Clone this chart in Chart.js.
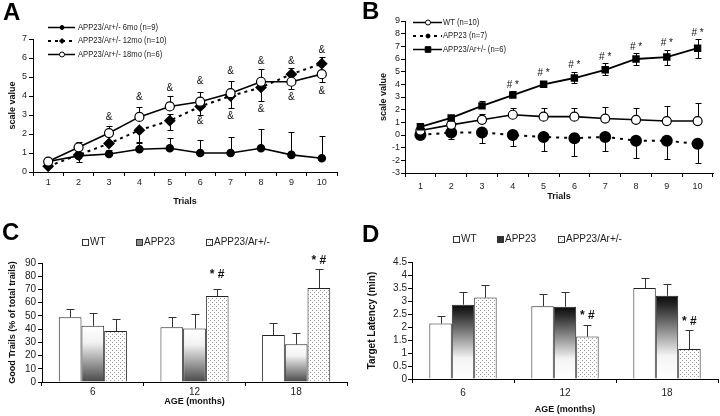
<!DOCTYPE html>
<html><head><meta charset="utf-8">
<script src="https://cdn.jsdelivr.net/npm/chart.js@4"></script>
<style>
html,body{margin:0;padding:0;background:#fff;}
#wrap{position:relative;width:720px;height:416px;overflow:hidden;background:#fff;}
canvas{position:absolute;}
.letter{position:absolute;font:bold 24px 'Liberation Sans',Arial,sans-serif;line-height:24px;color:#000;}
</style></head><body>
<div id="wrap">
<canvas id="cA" width="360" height="210" style="left:0;top:0"></canvas>
<canvas id="cB" width="360" height="210" style="left:360px;top:0"></canvas>
<canvas id="cC" width="360" height="206" style="left:0;top:210px"></canvas>
<canvas id="cD" width="360" height="206" style="left:360px;top:210px"></canvas>
<div class="letter" style="left:3px;top:0px">A</div>
<div class="letter" style="left:362px;top:-1px">B</div>
<div class="letter" style="left:2px;top:220px">C</div>
<div class="letter" style="left:362px;top:222px">D</div>
</div>
<script>
// ---------- DATA ----------
const trials = ['1','2','3','4','5','6','7','8','9','10'];
// Panel A
const labelsA = ['APP23/Ar+/- 6mo (n=9)', 'APP23/Ar+/- 12mo (n=10)', 'APP23/Ar+/- 18mo (n=6)'];
const a6mo    = [0.55, 0.85, 0.95, 1.2, 1.25, 1.0, 1.0, 1.25, 0.9, 0.72];
const a6moUp  = [0, 0, 0.2, 0.35, 0.55, 0.7, 0.85, 1.0, 1.2, 1.15];
const a12mo     = [0.3, 0.9, 1.5, 2.2, 2.7, 3.45, 4.0, 4.45, 5.15, 5.7];
const a12moUp   = [0, 0, 0, 0, 0.35, 0, 0, 0, 0.3, 0.35];
const a12moDown = [0, 0.35, 0, 0.6, 0.5, 0.45, 0.65, 0.7, 0, 0];
const a18mo     = [0.55, 1.3, 2.05, 2.9, 3.45, 3.7, 4.15, 4.75, 4.75, 5.15];
const a18moUp   = [0, 0.3, 0.35, 0.5, 0.55, 0.5, 0.65, 0.65, 0, 0];
const a18moDown = [0, 0, 0, 0, 0, 0, 0, 0, 0.4, 0.4];
const aMarkTrials = [3, 4, 5, 6, 7, 8, 9, 10, 6, 7, 8, 9, 10];
const aMarkValues = [2.9, 3.93, 4.4, 4.79, 5.3, 5.84, 5.84, 6.42, 2.65, 2.95, 3.3, 3.96, 4.23];
const aYMin = 0, aYMax = 7, aYStep = 1;
// Panel B
const labelsB = ['WT (n=10)', 'APP23 (n=7)', 'APP23/Ar+/- (n=6)'];
const bWT     = [0.35, 0.8, 1.2, 1.6, 1.45, 1.45, 1.3, 1.2, 1.1, 1.1];
const bWTUp   = [0, 0, 0.45, 0.5, 0.65, 0.7, 0.9, 0.95, 1.2, 1.4];
const bAPP      = [0, 0.2, 0.2, 0, -0.15, -0.25, -0.15, -0.45, -0.45, -0.7];
const bAPPDown  = [0, 0.55, 0.8, 0.85, 1.15, 1.4, 1.1, 1.35, 1.45, 1.5];
const bAr     = [0.65, 1.35, 2.3, 3.15, 4.0, 4.5, 5.15, 6.0, 6.15, 6.85];
const bArUp   = [0, 0.2, 0.35, 0.35, 0, 0.45, 0.55, 0.5, 0.6, 0.7];
const bArDown = [0, 0, 0, 0, 0, 0.4, 0.4, 0.5, 0.65, 0.75];
const bMarkTrials = [4, 5, 6, 7, 8, 9, 10];
const bMarkValues = [3.94, 4.91, 5.51, 6.12, 6.96, 7.22, 8.0];
const bYMin = -3, bYMax = 9, bYStep = 1;
// Panel C
const ages = ['6', '12', '18'];
const barLabels = ['WT', 'APP23', 'APP23/Ar+/-'];
const cWT  = [49, 41.5, 35.5];   const cWTErr  = [6.5, 8, 9];
const cAPP = [42.5, 40.5, 28.5]; const cAPPErr = [10, 11, 8.5];
const cAr  = [38.5, 65, 71];     const cArErr  = [9, 5, 14.5];
const cMarkAges = ['12', '18']; const cMarkValues = [81, 91.5];
const cYMin = 0, cYMax = 90, cYStep = 10;
// Panel D
const dWT  = [2.13, 2.8, 3.5];  const dWTErr  = [0.3, 0.48, 0.4];
const dAPP = [2.86, 2.78, 3.2]; const dAPPErr = [0.5, 0.58, 0.44];
const dAr  = [3.13, 1.63, 1.15]; const dArErr = [0.5, 0.45, 0.72];
const dMarkAges = ['12', '18']; const dMarkValues = [2.43, 2.22];
const dYMin = 0, dYMax = 4.5, dYStep = 0.5;

// ---------- HELPERS ----------
const FONT = "'Liberation Sans', Arial, sans-serif";
Chart.defaults.font.family = FONT;
Chart.defaults.color = '#222';

function drawMarker(c, style, x, y, r, fill) {
  c.beginPath();
  if (style === 'circle') c.arc(x, y, r, 0, Math.PI * 2);
  else if (style === 'rect') c.rect(x - r, y - r, 2 * r, 2 * r);
  else if (style === 'rectRot') { c.moveTo(x, y - r); c.lineTo(x + r, y); c.lineTo(x, y + r); c.lineTo(x - r, y); c.closePath(); }
  c.fillStyle = fill; c.fill();
  c.lineWidth = 1; c.strokeStyle = '#000'; c.stroke();
}

function errPlugin(sets, cap, color) {
  return { id: 'errbars', beforeDatasetsDraw(chart) {
    const c = chart.ctx, ys = chart.scales.y;
    c.save(); c.strokeStyle = color; c.lineWidth = 1; c.setLineDash([]);
    sets.forEach(s => {
      const meta = chart.getDatasetMeta(s.ds);
      const vals = chart.data.datasets[s.ds].data;
      meta.data.forEach((el, i) => {
        const v = vals[i];
        const x = Math.round(el.x) + 0.5;
        [[s.up, 1], [s.down, -1]].forEach(([arr, dir]) => {
          if (!arr || !arr[i]) return;
          const y0 = ys.getPixelForValue(v);
          const y1 = Math.round(ys.getPixelForValue(v + dir * arr[i])) + 0.5;
          c.beginPath(); c.moveTo(x, y0); c.lineTo(x, y1);
          c.moveTo(x - cap, y1); c.lineTo(x + cap, y1); c.stroke();
        });
      });
    });
    c.restore();
  }};
}

function markPlugin(cats, vals, text, font, dsForX) {
  return { id: 'marks', afterDatasetsDraw(chart) {
    const c = chart.ctx, xs = chart.scales.x, ys = chart.scales.y;
    c.save(); c.font = font; c.fillStyle = '#111'; c.textAlign = 'center'; c.textBaseline = 'middle';
    cats.forEach((cat, i) => {
      const idx = chart.data.labels.indexOf(String(cat));
      const px = dsForX != null ? chart.getDatasetMeta(dsForX).data[idx].x : xs.getPixelForValue(idx);
      c.fillText(text, px, ys.getPixelForValue(vals[i]));
    });
    c.restore();
  }};
}

function lineLegend(items, x0, x1, xm, xt, ys) {
  return { id: 'lineLegend', afterDraw(chart) {
    const c = chart.ctx;
    c.save();
    items.forEach((it, i) => {
      const y = ys[i] + 0.5;
      c.strokeStyle = '#000'; c.lineWidth = it.w; c.setLineDash(it.dash || []);
      c.beginPath(); c.moveTo(x0, y); c.lineTo(x1, y); c.stroke();
      c.setLineDash([]);
      drawMarker(c, it.marker, xm, y, it.r, it.fill);
      c.fillStyle = '#222'; c.font = '9px ' + FONT; c.textBaseline = 'middle'; c.textAlign = 'left';
      c.save(); c.translate(xt, y); c.scale(0.85, 1);
      c.fillText(chart.data.datasets[i].label, 0, 0);
      c.restore();
    });
    c.restore();
  }};
}

function boxLegend(fills, boxXs, textXs, y) {
  return { id: 'boxLegend', afterDraw(chart) {
    const c = chart.ctx;
    c.save();
    fills.forEach((f, i) => {
      c.fillStyle = f; c.fillRect(boxXs[i], y - 3, 6, 6);
      c.strokeStyle = '#333'; c.lineWidth = 1; c.strokeRect(boxXs[i] + 0.5, y - 2.5, 6, 6);
      c.fillStyle = '#222'; c.font = '10px ' + FONT; c.textBaseline = 'middle'; c.textAlign = 'left';
      c.fillText(chart.data.datasets[i].label, textXs[i], y + 0.5);
    });
    c.restore();
  }};
}

function gradFill(stops) {
  return function (ctx) {
    const ch = ctx.chart;
    if (ctx.type !== 'data' || !ch.chartArea) return stops[stops.length - 1][1];
    const ys = ch.scales.y;
    const t = ys.getPixelForValue(ctx.raw), b = ys.getPixelForValue(0);
    if (!isFinite(t) || !isFinite(b) || t === b) return '#888';
    const g = ch.ctx.createLinearGradient(0, t, 0, b);
    stops.forEach(s => g.addColorStop(s[0], s[1]));
    return g;
  };
}

function dotPattern(canvasId) {
  const p = document.createElement('canvas'); p.width = 4; p.height = 4;
  const x = p.getContext('2d');
  x.fillStyle = '#fff'; x.fillRect(0, 0, 4, 4);
  x.fillStyle = '#9a9a9a'; x.fillRect(0, 0, 1, 1); x.fillRect(2, 2, 1, 1);
  return document.getElementById(canvasId).getContext('2d').createPattern(p, 'repeat');
}

function xAxis(title, fontSize, tickPad, titlePadBottom, height) {
  return {
    offset: true,
    grid: { offset: true, drawOnChartArea: false, drawTicks: true, tickLength: 4, color: '#000' },
    border: { display: true, color: '#000', width: 1 },
    ticks: { font: { size: fontSize }, color: '#222', padding: tickPad, maxRotation: 0, autoSkip: false },
    title: { display: true, text: title, font: { size: 9, weight: 'bold' }, color: '#111', padding: { top: 0, bottom: titlePadBottom } },
    afterFit(s) { s.height = height; }
  };
}
function yAxis(title, min, max, step, fontSize, tickPad, titleFont, titlePadTop, width) {
  return {
    min: min, max: max,
    grid: { drawOnChartArea: false, drawTicks: true, tickLength: 4, color: '#000' },
    border: { display: true, color: '#000', width: 1 },
    ticks: { stepSize: step, font: { size: fontSize }, color: '#222', padding: tickPad, autoSkip: false,
             callback: v => String(Math.round(v * 100) / 100) },
    title: { display: true, text: title, font: { size: titleFont, weight: 'bold' }, color: '#111', padding: { top: titlePadTop, bottom: 0 } },
    afterFit(s) { s.width = width; }
  };
}
const baseOpts = { responsive: false, animation: false, events: [] };

// ---------- PANEL A ----------
new Chart(document.getElementById('cA'), {
  type: 'line',
  data: { labels: trials, datasets: [
    { label: labelsA[0], data: a6mo, borderColor: '#000', borderWidth: 1.6, tension: 0,
      pointStyle: 'circle', pointRadius: 3.5, pointBackgroundColor: '#000', pointBorderColor: '#000', order: 3 },
    { label: labelsA[1], data: a12mo, borderColor: '#000', borderWidth: 2, borderDash: [3, 4], tension: 0,
      pointStyle: 'rectRot', pointRadius: 4.5, pointBackgroundColor: '#000', pointBorderColor: '#000', order: 2 },
    { label: labelsA[2], data: a18mo, borderColor: '#000', borderWidth: 1.6, tension: 0,
      pointStyle: 'circle', pointRadius: 4.5, pointBackgroundColor: '#fff', pointBorderColor: '#000', pointBorderWidth: 1.2, order: 1 }
  ]},
  options: Object.assign({}, baseOpts, {
    layout: { padding: { left: 0, top: 39, right: 23, bottom: 0 } },
    plugins: { legend: { display: false }, tooltip: { enabled: false } },
    scales: {
      x: xAxis('Trials', 9, 1.6, 2.6, 38),
      y: yAxis('scale value', aYMin, aYMax, aYStep, 9, 2, 9, 7.6, 33)
    }
  }),
  plugins: [
    errPlugin([{ ds: 0, up: a6moUp }, { ds: 1, up: a12moUp, down: a12moDown }, { ds: 2, up: a18moUp, down: a18moDown }], 3, '#000'),
    markPlugin(aMarkTrials, aMarkValues, '&', '10px ' + FONT, null),
    lineLegend([
      { w: 1.5, marker: 'circle', r: 2, fill: '#000' },
      { w: 2, dash: [3, 4], marker: 'rectRot', r: 2.5, fill: '#000' },
      { w: 1.5, marker: 'circle', r: 2.5, fill: '#fff' }
    ], 48, 75, 62, 78, [27, 40.5, 54])
  ]
});

// ---------- PANEL B ----------
new Chart(document.getElementById('cB'), {
  type: 'line',
  data: { labels: trials, datasets: [
    { label: labelsB[0], data: bWT, borderColor: '#000', borderWidth: 1.6, tension: 0,
      pointStyle: 'circle', pointRadius: 4.5, pointBackgroundColor: '#fff', pointBorderColor: '#000', pointBorderWidth: 1.2, order: 2 },
    { label: labelsB[1], data: bAPP, borderColor: '#000', borderWidth: 2, borderDash: [3, 5], tension: 0,
      pointStyle: 'circle', pointRadius: 5, pointBackgroundColor: '#000', pointBorderColor: '#000', order: 3 },
    { label: labelsB[2], data: bAr, borderColor: '#000', borderWidth: 1.8, tension: 0,
      pointStyle: 'rect', pointRadius: 4, pointBackgroundColor: '#000', pointBorderColor: '#000', order: 1 }
  ]},
  options: Object.assign({}, baseOpts, {
    layout: { padding: { left: 0, top: 21, right: 2, bottom: 0 } },
    plugins: { legend: { display: false }, tooltip: { enabled: false } },
    scales: {
      x: xAxis('Trials', 9, 4.6, 7.6, 37),
      y: yAxis('scale value', bYMin, bYMax, bYStep, 9, 1, 9, 18.6, 45)
    }
  }),
  plugins: [
    errPlugin([{ ds: 0, up: bWTUp }, { ds: 1, down: bAPPDown }, { ds: 2, up: bArUp, down: bArDown }], 3, '#000'),
    markPlugin(bMarkTrials, bMarkValues, '# *', '10px ' + FONT, null),
    lineLegend([
      { w: 1.5, marker: 'circle', r: 2.5, fill: '#fff' },
      { w: 2, dash: [3, 4], marker: 'circle', r: 2, fill: '#000' },
      { w: 1.5, marker: 'rect', r: 2.8, fill: '#000' }
    ], 53, 82, 68, 83, [22, 35.5, 49])
  ]
});

// ---------- PANEL C ----------
const dotsC = dotPattern('cC');
new Chart(document.getElementById('cC'), {
  type: 'bar',
  data: { labels: ages, datasets: [
    { label: barLabels[0], data: cWT, backgroundColor: '#fff', borderColor: '#222', borderWidth: 1 },
    { label: barLabels[1], data: cAPP, backgroundColor: gradFill([[0, '#ffffff'], [0.3, '#f2f2f2'], [1, '#484848']]), borderColor: '#222', borderWidth: 1 },
    { label: barLabels[2], data: cAr, backgroundColor: dotsC, borderColor: '#222', borderWidth: 1 }
  ]},
  options: Object.assign({}, baseOpts, {
    datasets: { bar: { categoryPercentage: 0.67, barPercentage: 1.0 } },
    layout: { padding: { left: 0, top: 53, right: 13, bottom: 0 } },
    plugins: { legend: { display: false }, tooltip: { enabled: false } },
    scales: {
      x: xAxis('AGE (months)', 10, 0, 8.6, 34),
      y: yAxis('Good Trails (% of total trails)', cYMin, cYMax, cYStep, 10, 2, 9, 7.6, 42)
    }
  }),
  plugins: [
    errPlugin([{ ds: 0, up: cWTErr }, { ds: 1, up: cAPPErr }, { ds: 2, up: cArErr }], 4, '#333'),
    markPlugin(cMarkAges, cMarkValues, '* #', 'bold 12px ' + FONT, 2),
    boxLegend(['#fff', '#8a8a8a', dotsC], [82, 136, 206], [90, 144, 214], 32)
  ]
});

// ---------- PANEL D ----------
const dotsD = dotPattern('cD');
new Chart(document.getElementById('cD'), {
  type: 'bar',
  data: { labels: ages, datasets: [
    { label: barLabels[0], data: dWT, backgroundColor: '#fff', borderColor: '#222', borderWidth: 1 },
    { label: barLabels[1], data: dAPP, backgroundColor: gradFill([[0, '#0a0a0a'], [0.12, '#2a2a2a'], [0.72, '#f4f4f4'], [1, '#ffffff']]), borderColor: '#222', borderWidth: 1 },
    { label: barLabels[2], data: dAr, backgroundColor: dotsD, borderColor: '#222', borderWidth: 1 }
  ]},
  options: Object.assign({}, baseOpts, {
    datasets: { bar: { categoryPercentage: 0.66, barPercentage: 1.0 } },
    layout: { padding: { left: 0, top: 52, right: 2, bottom: 0 } },
    plugins: { legend: { display: false }, tooltip: { enabled: false } },
    scales: {
      x: xAxis('AGE (months)', 10, 4, 0.6, 37),
      y: yAxis('Target Latency (min)', dYMin, dYMax, dYStep, 10, 1, 10, 6.7, 52)
    }
  }),
  plugins: [
    errPlugin([{ ds: 0, up: dWTErr }, { ds: 1, up: dAPPErr }, { ds: 2, up: dArErr }], 4, '#333'),
    markPlugin(dMarkAges, dMarkValues, '* #', 'bold 12px ' + FONT, 2),
    boxLegend(['#fff', '#333', dotsD], [93, 137, 198], [101, 145, 206], 29)
  ]
});
</script>
</body></html>
